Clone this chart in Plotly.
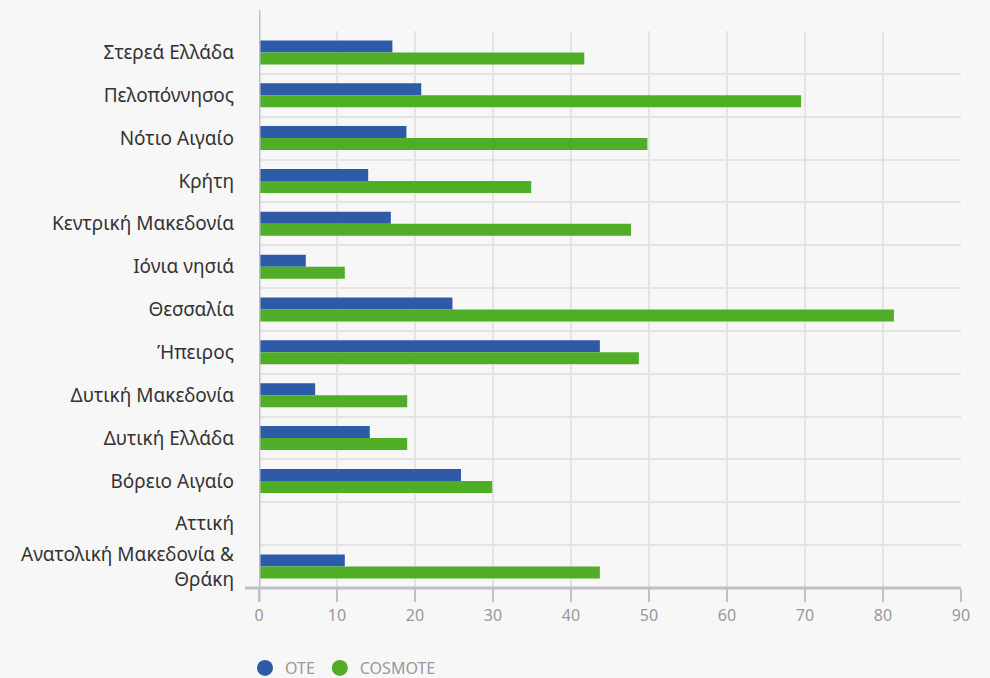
import plotly.graph_objects as go

categories = [
    "Στερεά Ελλάδα",
    "Πελοπόννησος",
    "Νότιο Αιγαίο",
    "Κρήτη",
    "Κεντρική Μακεδονία",
    "Ιόνια νησιά",
    "Θεσσαλία",
    "Ήπειρος",
    "Δυτική Μακεδονία",
    "Δυτική Ελλάδα",
    "Βόρειο Αιγαίο",
    "Αττική",
    "Ανατολική Μακεδονία &<br>Θράκη",
]
ote = [17.1, 20.8, 18.9, 14.0, 16.9, 6.0, 24.8, 43.7, 7.2, 14.2, 25.9, None, 11.0]
cosmote = [41.7, 69.5, 49.8, 34.9, 47.7, 11.0, 81.4, 48.7, 19.0, 19.0, 29.9, None, 43.7]
x_ticks = [0, 10, 20, 30, 40, 50, 60, 70, 80, 90]

BLUE = "#2e5aa7"
GREEN = "#4fad26"
BG = "#f7f7f7"
GRID = "#e4e4e4"
AXIS = "#c0c0c8"
FONT = "Noto Sans"

fig = go.Figure()
fig.add_trace(go.Bar(y=categories, x=ote, orientation="h", name="OTE",
                     marker=dict(color=BLUE, line=dict(width=0)), showlegend=False))
fig.add_trace(go.Bar(y=categories, x=cosmote, orientation="h", name="COSMOTE",
                     marker=dict(color=GREEN, line=dict(width=0)), showlegend=False))
# legend entries with circular symbols
for nm, col in [("OTE", BLUE), ("COSMOTE", GREEN)]:
    fig.add_trace(go.Scatter(x=[None], y=[None], mode="markers", name=nm,
                             marker=dict(color=col, size=17, symbol="circle"),
                             showlegend=True))

fig.update_layout(
    width=990, height=678,
    margin=dict(l=259, r=28.5, t=31, b=90, autoexpand=False),
    paper_bgcolor=BG, plot_bgcolor=BG,
    barmode="group", bargap=0.44, bargroupgap=0,
    font=dict(family=FONT, color="#333333"),
    showlegend=True,
    legend=dict(orientation="h", x=245 / 990, xanchor="left", xref="container",
                y=1 - 651 / 678, yanchor="top", yref="container",
                font=dict(size=16, color="#999999", family=FONT),
                bgcolor="rgba(0,0,0,0)", itemclick=False),
    xaxis=dict(range=[0, 90], tickvals=x_ticks, showgrid=True, gridcolor=GRID, gridwidth=1.5,
               zeroline=False, showline=False, ticks="outside", ticklen=13, tickwidth=2,
               tickcolor=AXIS, tickfont=dict(size=16, color="#999999", family=FONT),
               automargin=False, fixedrange=True),
    yaxis=dict(categoryorder="array", categoryarray=categories, autorange="reversed",
               tickson="boundaries", showgrid=True, gridcolor=GRID, gridwidth=1.5,
               zeroline=False, showline=False, ticks="", ticklabelstandoff=24,
               tickfont=dict(size=19, color="#333333", family=FONT),
               automargin=False, fixedrange=True),
    shapes=[
        dict(type="line", xref="paper", yref="paper", x0=-0.02, x1=1.0, y0=0, y1=0,
             line=dict(color=AXIS, width=3), layer="above"),
        dict(type="line", xref="x", yref="paper", x0=0, x1=0, y0=-0.025, y1=1.0377,
             line=dict(color=AXIS, width=3), layer="above"),
    ],
)

fig.write_html("out.html")
